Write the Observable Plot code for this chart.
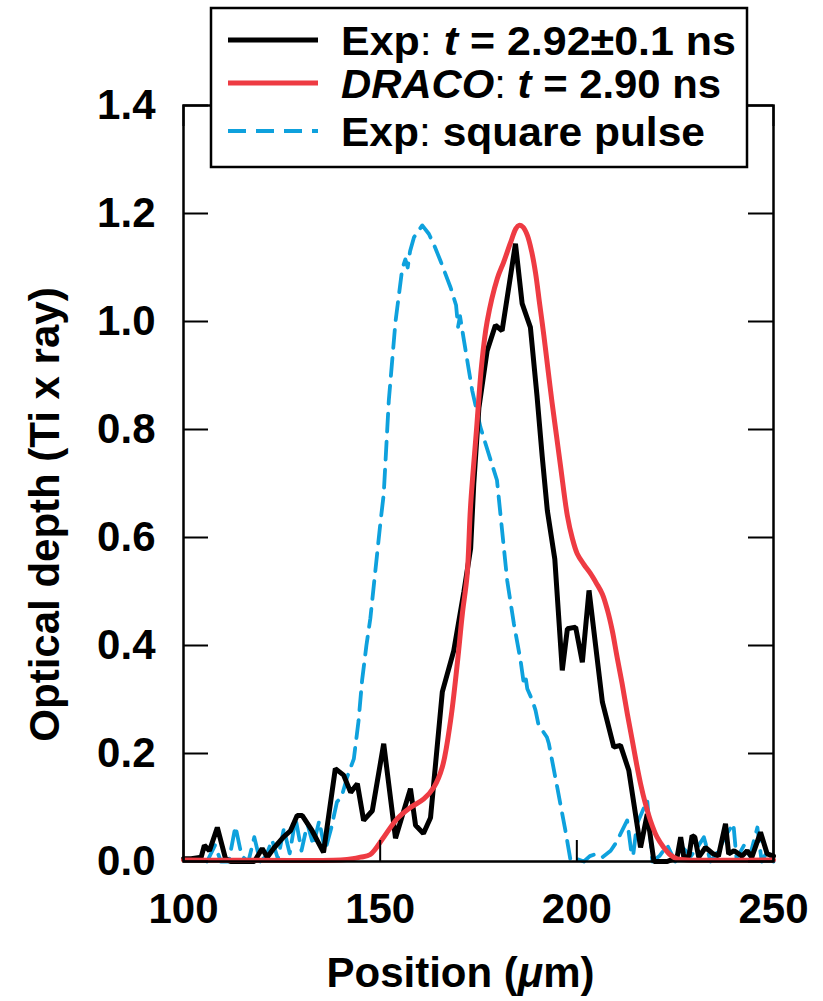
<!DOCTYPE html>
<html><head><meta charset="utf-8">
<script src="https://cdn.jsdelivr.net/npm/d3@7"></script>
<script src="https://cdn.jsdelivr.net/npm/@observablehq/plot@0.6"></script>
<style>
body{margin:0;background:#fff;}
#wrap{position:relative;width:823px;height:1001px;overflow:hidden;}
#legend{position:absolute;left:0;top:0;}
</style>
</head><body><div id="wrap"></div>
<script>
// ---- data ----
const xTicks = [100, 150, 200, 250];
const yTicks = [0, 0.2, 0.4, 0.6, 0.8, 1.0, 1.2, 1.4];
const xLabel = "Position (μm)";
const yLabel = "Optical depth (Ti x ray)";

// Exp: t = 2.92±0.1 ns (black)
const expX = [100,102,104.5,105.3,106.6,108.6,110.7,112,114,116,118,120,121.3,123,125.4,127.2,128.9,130.2,132.7,135.6,138.6,140.7,142.5,144.2,145.8,148,150.9,153.9,157.7,159,161,162.8,165.8,168.7,171.3,173,173.8,175.1,177.2,179.3,181,184.4,186.1,188.2,189.9,191.2,192.5,194.4,196.3,197.6,199.7,201.4,203.1,206.5,209.4,211.1,213.2,216.2,217.9,219.6,221,223,225.5,226.4,227.2,228.5,229.3,230,231,232.7,234.5,236,237.8,238.6,240,242,243.3,244.5,246.7,248.4,250];
const expY = [0.005,0.005,0.008,0.03,0.02,0.063,0.005,0,0,0,0,0.024,0.008,0.025,0.045,0.057,0.085,0.085,0.057,0.017,0.172,0.16,0.128,0.144,0.076,0.094,0.218,0.043,0.135,0.067,0.052,0.081,0.314,0.39,0.5,0.58,0.7,0.84,0.946,0.993,0.983,1.144,1.033,0.989,0.86,0.75,0.65,0.56,0.354,0.431,0.434,0.369,0.502,0.295,0.212,0.215,0.169,0.026,0.088,0,0,0,0.008,0.045,0.008,0.01,0.048,0.045,0.008,0.026,0.015,0.01,0.07,0.014,0.02,0.01,0.02,0.008,0.054,0.014,0.01];

// DRACO: t = 2.90 ns (red)
const dracoX = [100,140,143,145,147.5,150.9,154.3,157.7,161.1,163.7,165.8,167.9,169.6,170.9,172.1,173,174.5,175.8,177.2,179.8,181.4,183.1,184.5,185.3,186.3,187.4,188.5,189.5,190.5,191.6,192.6,193.7,194.8,195.9,197.6,198.8,200.1,201.8,203.5,205,206.5,207.8,209,210.2,211.5,212.8,214.1,215.2,216.2,217.4,218.7,220.4,222.1,223.8,225.5,228,250];
const dracoY = [0.003,0.003,0.005,0.008,0.013,0.045,0.079,0.1,0.116,0.138,0.175,0.261,0.366,0.459,0.53,0.66,0.8,0.92,1.0,1.08,1.11,1.145,1.172,1.178,1.175,1.16,1.13,1.09,1.035,0.975,0.915,0.85,0.79,0.73,0.64,0.6,0.57,0.55,0.533,0.515,0.495,0.465,0.428,0.38,0.33,0.275,0.224,0.18,0.144,0.108,0.076,0.045,0.026,0.012,0.005,0.003,0.003];

// Exp: square pulse (blue dashed)
const sqX = [106,108,109.5,111.5,113.2,114.8,116.5,118,119.5,121,122.5,124,125.5,127,128.5,130,131.5,133,134.5,136,137.5,139,140.2,141.6,143.3,144.5,145.4,146.5,147.5,148.8,150.1,150.9,152.2,153.9,155.6,156.4,157,157.6,158.6,160.7,162.4,163.8,165.3,167.9,169.3,169.8,170.3,171.3,173.4,175.5,178.1,179.7,181,182.3,184,185.7,186.5,187,187.4,188.7,189.5,190.2,191.2,192.4,192.9,195,197.1,198.4,200,201.8,203.3,204.8,206.5,208.6,210,211.1,212.8,213.8,214.3,215.3,216.5,217.9,219.2,221,223,225,227,229,231,232.3,234,236,238,239.8,240.6,242.5,244,245.9,247,248.5,250];
const sqY = [0,0.03,0,0,0.065,0.01,0,0.045,0,0.01,0.04,0.005,0.06,0.015,0.08,0.02,0.07,0.03,0.075,0.02,0.06,0.11,0.12,0.156,0.19,0.26,0.335,0.4,0.45,0.54,0.63,0.68,0.854,1.0,1.097,1.115,1.1,1.13,1.156,1.178,1.162,1.14,1.113,1.063,1.03,0.99,1.01,0.965,0.872,0.804,0.743,0.706,0.613,0.52,0.44,0.372,0.33,0.34,0.32,0.298,0.28,0.255,0.243,0.23,0.218,0.138,0.057,0.002,0.005,0,0.01,0.014,0.008,0.02,0.035,0.051,0.076,0.02,0.01,0.07,0.09,0.113,0,0.01,0.03,0,0.025,0.01,0.03,0.045,0,0.02,0.05,0.07,0.005,0.03,0.01,0.063,0,0.02,0];

const seriesNames = ["Exp: t = 2.92±0.1 ns", "DRACO: t = 2.90 ns", "Exp: square pulse"];
const seriesColors = ["#000000", "#ee3b43", "#0ea1dd"];

// ---- build ----
const toRows = (xs, ys) => xs.map((x, i) => ({x, y: ys[i]}));
const expData = toRows(expX, expY);
const dracoData = toRows(dracoX, dracoY);
const sqData = toRows(sqX, sqY);

const FONT = "Liberation Sans, Arial, Helvetica, sans-serif";

const chart = Plot.plot({
  width: 823, height: 1001,
  marginLeft: 183, marginRight: 50, marginTop: 105, marginBottom: 140,
  style: {fontFamily: FONT, fontWeight: "bold", background: "white", color: "black"},
  x: {domain: [100, 250]},
  y: {domain: [0, 1.4]},
  marks: [
    Plot.line(sqData, {x: "x", y: "y", stroke: seriesColors[2], strokeWidth: 3.8, strokeDasharray: "18,10"}),
    Plot.line(expData, {x: "x", y: "y", stroke: seriesColors[0], strokeWidth: 5, strokeLinejoin: "miter"}),
    Plot.line(dracoData, {x: "x", y: "y", stroke: seriesColors[1], strokeWidth: 5, curve: "catmull-rom"}),
    Plot.tickY(yTicks, {y: d => d, stroke: "black", strokeWidth: 2, insetRight: 565}),
    Plot.tickY(yTicks, {y: d => d, stroke: "black", strokeWidth: 2, insetLeft: 565}),
    Plot.tickX(xTicks, {x: d => d, stroke: "black", strokeWidth: 2, insetTop: 735}),
    Plot.tickX(xTicks, {x: d => d, stroke: "black", strokeWidth: 2, insetBottom: 735}),
    Plot.frame({stroke: "black", strokeWidth: 2.5}),
    Plot.axisY(yTicks, {tickSize: 0, tickPadding: 28, tickFormat: d => d.toFixed(1), fontSize: 42, fontWeight: "bold", fill: "black", label: null}),
    Plot.axisX(xTicks, {tickSize: 0, tickPadding: 32, tickFormat: d => String(d), fontSize: 42, fontWeight: "bold", fill: "black", label: null}),
    Plot.text([yLabel], {text: d => d, frameAnchor: "left", textAnchor: "middle", dx: -138, dy: 31, rotate: -90, fontSize: 42, fontWeight: "bold", fill: "black"}),
    Plot.text([xLabel], {text: d => d, frameAnchor: "bottom", textAnchor: "middle", dx: -18, dy: 112, lineAnchor: "middle", fontSize: 42, fontWeight: "bold", fill: "black"})
  ]
});

// italic mu in x label
d3.select(chart).selectAll("text").each(function() {
  if (this.textContent === xLabel) {
    const t = d3.select(this);
    t.text(null);
    t.append("tspan").text("Position (");
    t.append("tspan").attr("font-style", "italic").text("μ");
    t.append("tspan").text("m)");
  }
});

const wrap = document.getElementById("wrap");
wrap.appendChild(chart);

// ---- legend (overlay box) ----
const lg = d3.select(wrap).append("svg").attr("id", "legend")
  .attr("width", 823).attr("height", 180)
  .style("font-family", FONT);
lg.append("rect").attr("x", 211).attr("y", 8).attr("width", 536).attr("height", 159)
  .attr("fill", "white").attr("stroke", "black").attr("stroke-width", 2.5);
const rowsY = [40, 83, 131];
const baseY = [55, 98, 146];
const textLen = [395, 380, 364];
const dashes = [null, null, "18,10"];
seriesNames.forEach((name, i) => {
  lg.append("line").attr("x1", 228).attr("x2", 318).attr("y1", rowsY[i]).attr("y2", rowsY[i])
    .attr("stroke", seriesColors[i]).attr("stroke-width", i === 2 ? 3.8 : 5)
    .attr("stroke-dasharray", dashes[i]);
  const t = lg.append("text").attr("x", 341).attr("y", baseY[i])
    .attr("font-size", 41).attr("font-weight", "bold").attr("fill", "black")
    .attr("textLength", textLen[i]).attr("lengthAdjust", "spacingAndGlyphs");
  const idx = name.indexOf(":");
  const head = name.slice(0, idx);
  const rest = name.slice(idx + 1);
  t.append("tspan").attr("font-style", head === "DRACO" ? "italic" : null).text(head);
  t.append("tspan").attr("font-weight", "normal").text(":");
  if (rest.startsWith(" t ")) {
    t.append("tspan").text(" ");
    t.append("tspan").attr("font-style", "italic").text("t");
    t.append("tspan").text(rest.slice(2));
  } else {
    t.append("tspan").text(rest);
  }
});
</script>
</body></html>
